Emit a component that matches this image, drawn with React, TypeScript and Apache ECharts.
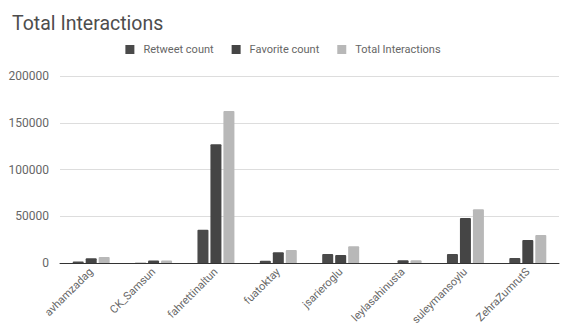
import React, { useEffect, useRef } from "react";
import * as echarts from "echarts";

const categories = ["avhamzadag", "CK_Samsun", "fahrettinaltun", "fuatoktay", "jsarieroglu", "leylasahinusta", "suleymansoylu", "ZehraZumrutS"];
const retweetCount = [1500, 200, 35500, 2500, 9500, 100, 9500, 5300];
const favoriteCount = [5000, 2600, 127000, 11500, 8500, 2900, 48000, 24600];
const totalInteractions = [6500, 2800, 162500, 14000, 18000, 3000, 57500, 29900];
const yTicks = { min: 0, max: 200000, interval: 50000 };

const FONT = "Roboto, 'Noto Sans', sans-serif";

export default function App() {
  const ref = useRef<HTMLDivElement>(null);
  useEffect(() => {
    if (!ref.current) return;
    const chart = echarts.init(ref.current, undefined, { renderer: "svg" });
    const barCommon = {
      type: "bar" as const,
      barWidth: 11,
      barGap: "18%",
      itemStyle: { borderRadius: [1, 1, 0, 0] },
    };
    chart.setOption({
      animation: false,
      textStyle: { fontFamily: FONT },
      title: {
        text: "Total Interactions",
        left: 7,
        top: 8,
        textStyle: { fontFamily: FONT, fontSize: 19.5, fontWeight: "normal", color: "#4d4d4d" },
      },
      legend: {
        top: 39,
        left: "center",
        itemWidth: 9,
        itemHeight: 9,
        itemGap: 18,
        icon: "rect",
        textStyle: { fontFamily: FONT, fontSize: 11, color: "#666", padding: [0, 0, 0, 4] },
        data: ["Retweet count", "Favorite count", "Total Interactions"],
      },
      grid: { left: 60, right: 7, top: 76, bottom: 66 },
      xAxis: {
        type: "category",
        data: categories,
        axisLine: { lineStyle: { color: "#333", width: 1 } },
        axisTick: { show: false },
        axisLabel: { rotate: 45, interval: 0, fontFamily: FONT, fontSize: 11, color: "#666", margin: 7 },
      },
      yAxis: {
        type: "value",
        min: yTicks.min,
        max: yTicks.max,
        interval: yTicks.interval,
        axisLine: { show: false },
        axisTick: { show: false },
        splitLine: { lineStyle: { color: "#dddddd" } },
        axisLabel: { fontFamily: FONT, fontSize: 12, color: "#666", margin: 11, formatter: (v: number) => String(v) },
      },
      series: [
        { ...barCommon, name: "Retweet count", data: retweetCount, itemStyle: { ...barCommon.itemStyle, color: "#4a4a4a" } },
        { ...barCommon, name: "Favorite count", data: favoriteCount, itemStyle: { ...barCommon.itemStyle, color: "#454545" } },
        { ...barCommon, name: "Total Interactions", data: totalInteractions, itemStyle: { ...barCommon.itemStyle, color: "#b8b8b8" } },
      ],
    });
    return () => chart.dispose();
  }, []);
  return <div ref={ref} style={{ width: 566, height: 329, position: "absolute", left: 0, top: 0, background: "#fff" }} />;
}
